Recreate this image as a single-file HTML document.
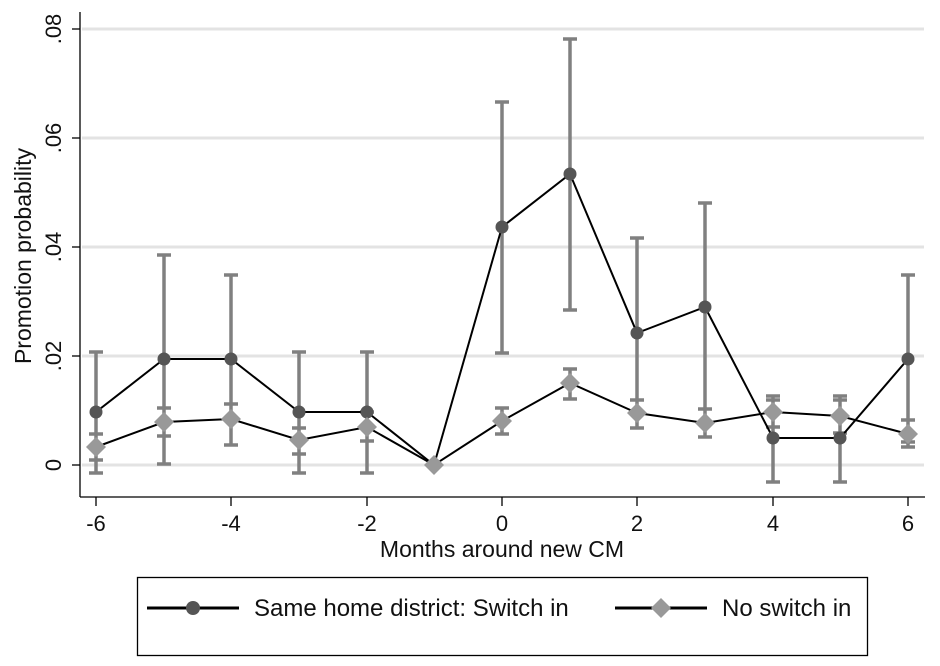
<!DOCTYPE html>
<html><head><style>body{margin:0;background:#fff}svg{display:block}text{font-family:"Liberation Sans",sans-serif;fill:#111}</style></head><body>
<svg width="940" height="666" viewBox="0 0 940 666" xmlns="http://www.w3.org/2000/svg">
<rect width="940" height="666" fill="#fff"/>
<g stroke="#e3e3e3" stroke-width="3">
<line x1="82" x2="924" y1="29" y2="29"/><line x1="82" x2="924" y1="138" y2="138"/><line x1="82" x2="924" y1="247" y2="247"/><line x1="82" x2="924" y1="356" y2="356"/><line x1="82" x2="924" y1="465" y2="465"/>
</g>
<g stroke="#000" stroke-width="1.3">
<line x1="80" y1="12" x2="80" y2="497"/><line x1="80" y1="497" x2="925" y2="497"/>
<line x1="72" x2="80" y1="29" y2="29"/><line x1="72" x2="80" y1="138" y2="138"/><line x1="72" x2="80" y1="247" y2="247"/><line x1="72" x2="80" y1="356" y2="356"/><line x1="72" x2="80" y1="465" y2="465"/>
<line x1="96" x2="96" y1="497" y2="506"/><line x1="231" x2="231" y1="497" y2="506"/><line x1="367" x2="367" y1="497" y2="506"/><line x1="502" x2="502" y1="497" y2="506"/><line x1="637" x2="637" y1="497" y2="506"/><line x1="773" x2="773" y1="497" y2="506"/><line x1="908" x2="908" y1="497" y2="506"/>
</g>
<g font-size="22" text-anchor="middle">
<text transform="translate(61,29) rotate(-90)">.08</text>
<text transform="translate(61,138) rotate(-90)">.06</text>
<text transform="translate(61,247) rotate(-90)">.04</text>
<text transform="translate(61,356) rotate(-90)">.02</text>
<text transform="translate(61,465) rotate(-90)">0</text>
<text transform="translate(31,256) rotate(-90)" font-size="23">Promotion probability</text>
<text x="96" y="531">-6</text><text x="231" y="531">-4</text><text x="367" y="531">-2</text><text x="502" y="531">0</text><text x="637" y="531">2</text><text x="773" y="531">4</text><text x="908" y="531">6</text>
<text x="502" y="557" font-size="23">Months around new CM</text>
</g>
<g stroke="#808080" stroke-width="3.5" fill="none">
<path d="M96 352V473M89 352H103M89 473H103 M96 434V460M89 434H103M89 460H103"/>
<path d="M164 255V464M157 255H171M157 464H171 M164 408V436M157 408H171M157 436H171"/>
<path d="M231 275V404M224 275H238M224 404H238 M231 404V445M224 445H238"/>
<path d="M299 352V473M292 352H306M292 473H306 M299 428V454M292 428H306M292 454H306"/>
<path d="M367 352V473M360 352H374M360 473H374 M367 412V441M360 412H374M360 441H374"/>
<path d="M502 102V353M495 102H509M495 353H509 M502 408V434M495 408H509M495 434H509"/>
<path d="M570 39V310M563 39H577M563 310H577 M570 369V399M563 369H577M563 399H577"/>
<path d="M637 238V428M630 238H644M630 428H644 M637 400V428M630 400H644"/>
<path d="M705 203V409M698 203H712M698 409H712 M705 409V437M698 437H712"/>
<path d="M773 396V482M766 400H780M766 482H780 M766 396H780M766 427H780"/>
<path d="M840 396V482M833 400H847M833 482H847 M833 396H847M833 433H847"/>
<path d="M908 275V447M901 275H915M901 447H915 M901 420H915M901 442H915"/>
</g>
<polyline fill="none" stroke="#000" stroke-width="2" points="96,412 164,359 231,359 299,412 367,412 434,465 502,227 570,174 637,333 705,307 773,438 840,438 908,359"/>
<polyline fill="none" stroke="#000" stroke-width="2" points="96,447 164,422 231,419 299,440 367,427 434,465 502,421 570,383 637,413 705,423 773,412 840,416 908,434"/>
<g fill="#555">
<circle cx="96" cy="412" r="6.5"/><circle cx="164" cy="359" r="6.5"/><circle cx="231" cy="359" r="6.5"/><circle cx="299" cy="412" r="6.5"/><circle cx="367" cy="412" r="6.5"/><circle cx="434" cy="465" r="6.5"/><circle cx="502" cy="227" r="6.5"/><circle cx="570" cy="174" r="6.5"/><circle cx="637" cy="333" r="6.5"/><circle cx="705" cy="307" r="6.5"/><circle cx="773" cy="438" r="6.5"/><circle cx="840" cy="438" r="6.5"/><circle cx="908" cy="359" r="6.5"/>
</g>
<g fill="#999">
<path d="M96 437l10 10-10 10-10-10z"/><path d="M164 412l10 10-10 10-10-10z"/><path d="M231 409l10 10-10 10-10-10z"/><path d="M299 430l10 10-10 10-10-10z"/><path d="M367 417l10 10-10 10-10-10z"/><path d="M434 455l10 10-10 10-10-10z"/><path d="M502 411l10 10-10 10-10-10z"/><path d="M570 373l10 10-10 10-10-10z"/><path d="M637 403l10 10-10 10-10-10z"/><path d="M705 413l10 10-10 10-10-10z"/><path d="M773 402l10 10-10 10-10-10z"/><path d="M840 406l10 10-10 10-10-10z"/><path d="M908 424l10 10-10 10-10-10z"/>
</g>
<rect x="137.5" y="577.5" width="730" height="78" fill="none" stroke="#000" stroke-width="1.3"/>
<line x1="147" x2="239" y1="608" y2="608" stroke="#000" stroke-width="3"/>
<circle cx="193" cy="608" r="7" fill="#555"/>
<text x="254" y="616" font-size="24">Same home district: Switch in</text>
<line x1="615" x2="707" y1="608" y2="608" stroke="#000" stroke-width="3"/>
<path d="M661 598 L671 608 L661 618 L651 608Z" fill="#999"/>
<text x="722" y="616" font-size="24">No switch in</text>
</svg>
</body></html>
